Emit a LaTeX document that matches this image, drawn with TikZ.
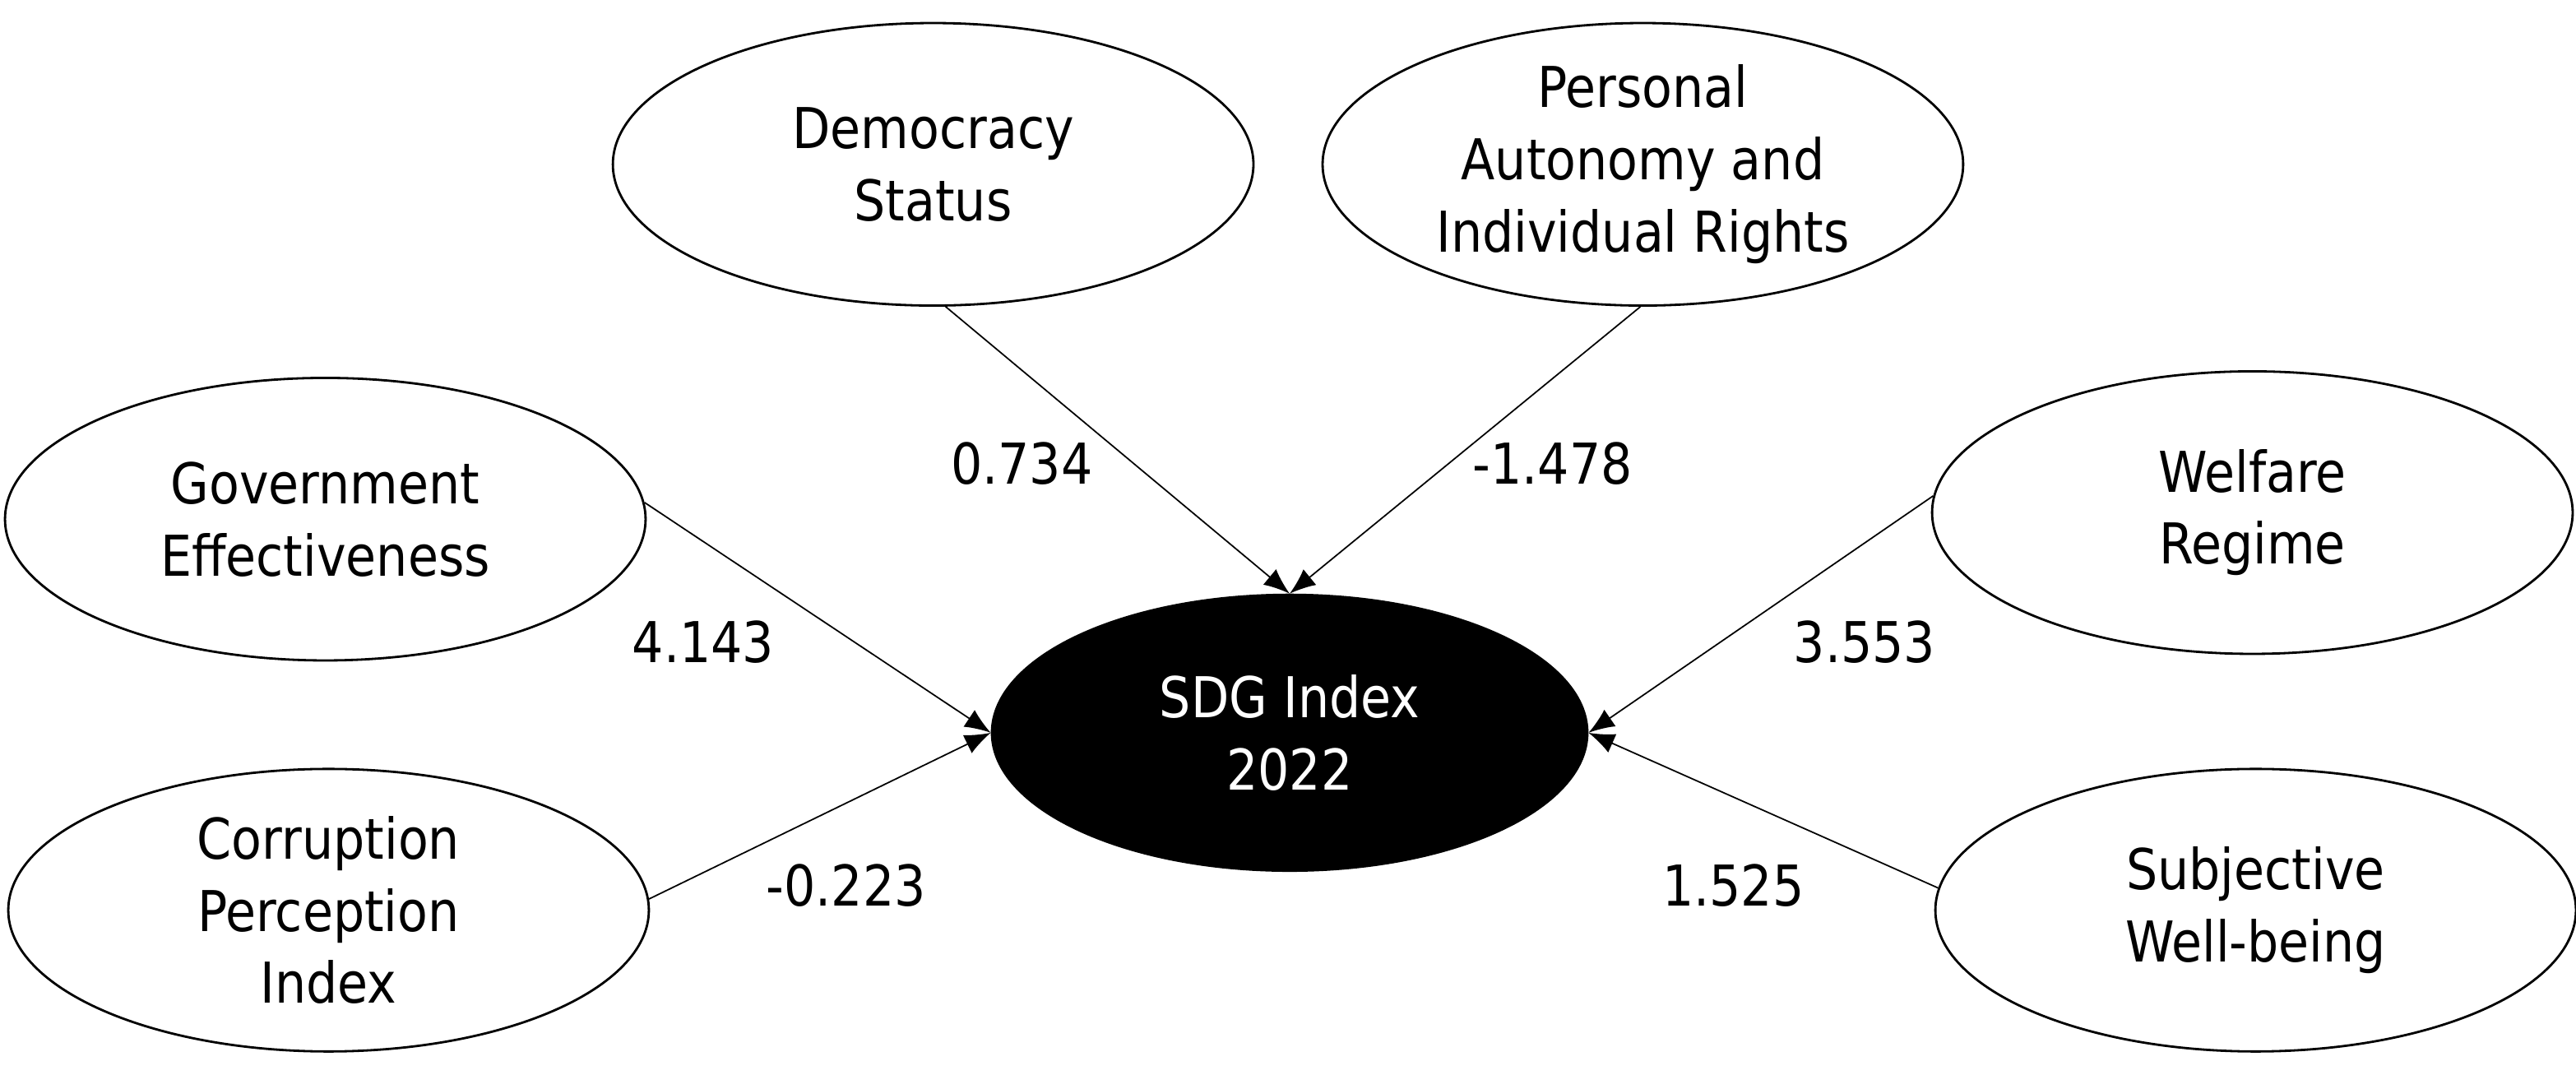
\documentclass[tikz,border=0pt]{standalone}
\usepackage{fontspec}
\setmainfont[FakeStretch=0.88]{DejaVu Sans}
\usetikzlibrary{shapes.geometric,arrows.meta}
\tikzset{
  latent/.style={ellipse, draw, line width=0.8pt, minimum width=7.8cm, minimum height=3.44cm, align=center, inner sep=-3pt},
  target/.style={latent, fill=black, text=white, minimum width=7.25cm, minimum height=3.36cm},
  coef/.style={inner sep=1pt}
}
\begin{document}
\begin{tikzpicture}[x=0.02cm,y=-0.02cm,->,>={Latex[length=9pt,width=7pt]},line width=0.5pt,
  font=\fontsize{19.5}{25}\selectfont]
\useasboundingbox (0,0) rectangle (1568,654);
\node[latent](dem) at (568,100) {Democracy\\Status};
\node[latent](pers) at (1000,100) {Personal\\Autonomy and\\Individual Rights};
\node[latent](gov) at (198,316) {Government\\Effectiveness};
\node[latent](cpi) at (200,554) {Corruption\\Perception\\Index};
\node[latent](wel) at (1371,312) {Welfare\\Regime};
\node[latent](swb) at (1373,554) {Subjective\\Well-being};
\node[target](sdg) at (785,446) {SDG Index\\2022};

\node[coef](l1) at (622,282) {0.734};
\node[coef](l2) at (945,282) {-1.478};
\node[coef](l3) at (428,391) {4.143};
\node[coef](l4) at (515,539) {-0.223};
\node[coef](l5) at (1135,391) {3.553};
\node[coef](l6) at (1055,539) {1.525};

\path (dem.-85) edge (sdg.north);
\path (pers.-91) edge (sdg.north);
\path (gov.3) edge (sdg.west);
\path (cpi.2) edge (sdg.west);
\path (wel.177) edge (sdg.east);
\path (swb.176) edge (sdg.east);
\end{tikzpicture}
\end{document}
